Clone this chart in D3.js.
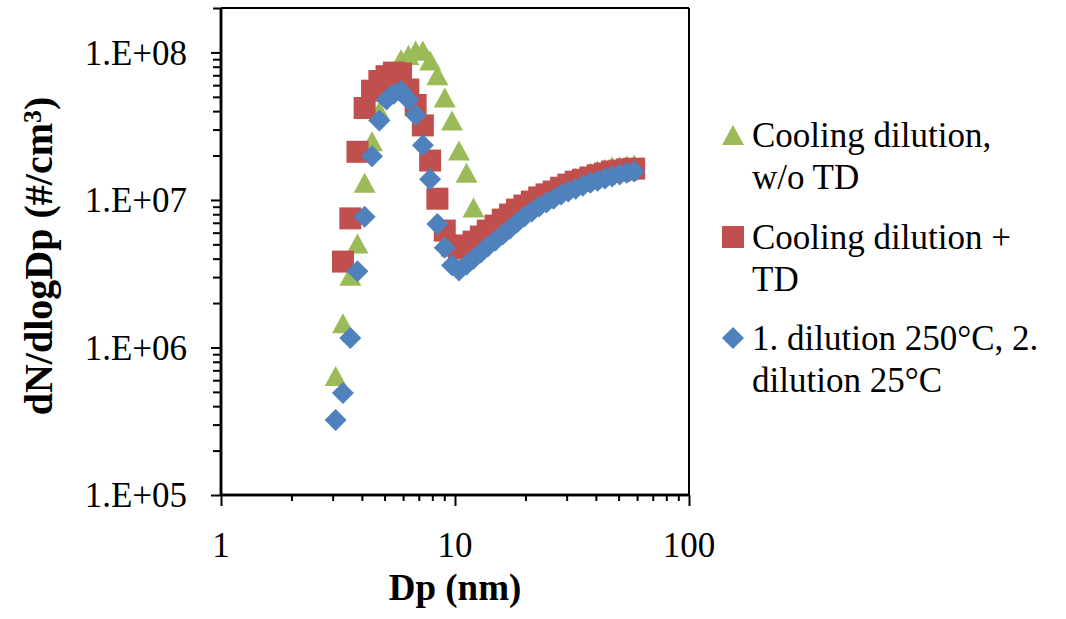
<!DOCTYPE html>
<html>
<head>
<meta charset="utf-8">
<script src="https://cdn.jsdelivr.net/npm/d3@7"></script>
<style>
  html, body { margin: 0; padding: 0; background: #fff; }
  svg { display: block; }
  text { font-family: "Liberation Serif", "Times New Roman", serif; fill: #000; }
</style>
</head>
<body>
<svg id="chart" width="1066" height="619"></svg>
<script>
// ---- data ----
const dp = [3.09, 3.32, 3.57, 3.83, 4.11, 4.42, 4.75, 5.10, 5.48, 5.88, 6.32, 6.79, 7.29, 7.83,
  8.41, 9.04, 9.71, 10.4, 11.2, 12.0, 12.9, 13.8, 14.9, 16.0, 17.2, 18.4, 19.8, 21.3, 22.9,
  24.6, 26.4, 28.4, 30.5, 32.8, 35.2, 37.9, 40.7, 43.7, 46.9, 50.5, 54.2, 58.3];

const coolingNoTD = [6.4e5, 1.46e6, 3.06e6, 5.06e6, 1.31e7, 2.5e7, 4.0e7, 5.5e7, 7.5e7, 9.0e7,
  9.6e7, 1.03e8, 1.03e8, 8.8e7, 7.0e7, 4.95e7, 3.46e7, 2.16e7, 1.53e7, 8.9e6, 6.3e6, 6.6e6,
  6.6e6, 6.7e6, 7.3e6, 8.0e6, 8.7e6, 9.4e6, 1.01e7, 1.10e7, 1.21e7, 1.29e7, 1.35e7, 1.42e7,
  1.46e7, 1.53e7, 1.58e7, 1.63e7, 1.69e7, 1.69e7, 1.72e7, 1.74e7];

const coolingTD = [null, 3.82e6, 7.5e6, 2.12e7, 4.2e7, 5.5e7, 6.4e7, 6.9e7, 7.3e7, 7.2e7,
  5.6e7, 4.4e7, 3.2e7, 1.85e7, 1.02e7, 6.2e6, 4.9e6, 4.68e6, 4.9e6, 5.22e6, 5.65e6, 6.2e6,
  6.7e6, 7.36e6, 7.96e6, 8.6e6, 9.16e6, 9.75e6, 1.04e7, 1.09e7, 1.14e7, 1.21e7, 1.27e7, 1.33e7,
  1.37e7, 1.42e7, 1.47e7, 1.51e7, 1.56e7, 1.58e7, 1.61e7, 1.63e7];

const hotDilution = [3.23e5, 4.92e5, 1.16e6, 3.28e6, 7.7e6, 1.98e7, 3.46e7, 4.8e7, 5.25e7, 5.5e7,
  4.8e7, 3.77e7, 2.35e7, 1.38e7, 6.87e6, 4.75e6, 3.61e6, 3.33e6, 3.64e6, 4.0e6, 4.4e6, 4.83e6,
  5.3e6, 5.82e6, 6.4e6, 7.03e6, 7.71e6, 8.34e6, 9.02e6, 9.6e6, 1.02e7, 1.09e7, 1.14e7, 1.19e7,
  1.25e7, 1.31e7, 1.35e7, 1.40e7, 1.44e7, 1.49e7, 1.53e7, 1.56e7];

const xTickValues = [1, 10, 100];
const xTickLabels = ["1", "10", "100"];
const yTickValues = [1e5, 1e6, 1e7, 1e8];
const yTickLabels = ["1.E+05", "1.E+06", "1.E+07", "1.E+08"];

const seriesNames = [["Cooling dilution,", "w/o TD"], ["Cooling dilution +", "TD"], ["1. dilution 250°C, 2.", "dilution 25°C"]];
const seriesColors = ["#9BBB59", "#C0504D", "#4F81BD"];
const seriesShapes = ["triangle", "square", "diamond"];

(function () {
// ---- layout ----
const svg = d3.select("#chart");
const pL = 221, pR = 689, pT = 8, pB = 495;
const x = d3.scaleLog().domain([1, 100]).range([pL, pR]);
const y = d3.scaleLog().domain([1e5, 2e8]).range([pB, pT]);

const shapePath = {
  triangle: "M0,-10L11,10L-11,10Z",
  square: "M-11,-11H11V11H-11Z",
  diamond: "M0,-11L11,0L0,11L-11,0Z"
};

// minor ticks
const xMinor = [];
for (let d = 1; d < 100; d *= 10) for (let k = 2; k <= 9; k++) xMinor.push(d * k);
const yMinor = [];
for (let d = 1e5; d < 1e8; d *= 10) for (let k = 2; k <= 9; k++) yMinor.push(d * k);
yMinor.push(2e8);

const g = svg.append("g");

// plot frame (top & right)
g.append("line").attr("x1", pL).attr("x2", pR).attr("y1", pT).attr("y2", pT)
  .attr("stroke", "#000").attr("stroke-width", 2);
g.append("line").attr("x1", pR).attr("x2", pR).attr("y1", pT).attr("y2", pB)
  .attr("stroke", "#000").attr("stroke-width", 2);

// x axis
const xAxis = g.append("g").attr("transform", `translate(0,${pB})`)
  .call(d3.axisBottom(x).tickValues(xMinor).tickSize(6).tickFormat(""));
const xAxisMajor = g.append("g").attr("transform", `translate(0,${pB})`)
  .call(d3.axisBottom(x).tickValues(xTickValues).tickSize(11).tickFormat(""));
[xAxis, xAxisMajor].forEach(a => {
  a.select(".domain").attr("d", `M${pL},0H${pR}`).attr("stroke", "#000").attr("stroke-width", 2.5);
  a.selectAll(".tick line").attr("stroke", "#000").attr("stroke-width", 2);
});

// y axis
const yAxis = g.append("g").attr("transform", `translate(${pL},0)`)
  .call(d3.axisLeft(y).tickValues(yMinor).tickSize(8).tickFormat(""));
const yAxisMajor = g.append("g").attr("transform", `translate(${pL},0)`)
  .call(d3.axisLeft(y).tickValues(yTickValues).tickSize(10).tickFormat(""));
[yAxis, yAxisMajor].forEach(a => {
  a.select(".domain").attr("d", `M0,${pT}V${pB}`).attr("stroke", "#000").attr("stroke-width", 2.5);
  a.selectAll(".tick line").attr("stroke", "#000").attr("stroke-width", 2);
});

// tick labels
g.selectAll(".xlab").data(xTickValues).enter().append("text")
  .attr("x", d => x(d)).attr("y", 557).attr("text-anchor", "middle")
  .attr("font-size", 35).text((d, i) => xTickLabels[i]);
g.selectAll(".ylab").data(yTickValues).enter().append("text")
  .attr("x", 187).attr("y", d => y(d)).attr("dy", "0.35em").attr("text-anchor", "end")
  .attr("font-size", 35).text((d, i) => yTickLabels[i]);

// axis titles
g.append("text").attr("x", 455).attr("y", 600).attr("text-anchor", "middle")
  .attr("font-size", 37).attr("font-weight", "bold").text("Dp (nm)");
const yt = g.append("text").attr("transform", "translate(52,256) rotate(-90)")
  .attr("text-anchor", "middle").attr("font-size", 40).attr("font-weight", "bold");
yt.append("tspan").text("dN/dlogDp (#/cm");
yt.append("tspan").attr("dy", "-0.42em").attr("font-size", "0.65em").text("3");
yt.append("tspan").attr("dy", "0.27em").text(")");

// data points
const allSeries = [coolingNoTD, coolingTD, hotDilution];
allSeries.forEach((vals, si) => {
  const pts = dp.map((d, i) => ({ d, v: vals[i] })).filter(p => p.v != null);
  g.append("g").selectAll("path").data(pts).enter().append("path")
    .attr("transform", p => `translate(${x(p.d)},${y(p.v)})`)
    .attr("d", shapePath[seriesShapes[si]])
    .attr("fill", seriesColors[si]);
});

// legend
const legendBase = [147, 249, 350];
const lg = svg.append("g");
seriesNames.forEach((lines, si) => {
  lg.append("path").attr("transform", `translate(733,${legendBase[si] - 12})`)
    .attr("d", shapePath[seriesShapes[si]]).attr("fill", seriesColors[si]);
  lines.forEach((t, li) => {
    lg.append("text").attr("x", 752).attr("y", legendBase[si] + li * 42)
      .attr("font-size", 35).text(t);
  });
});
})();
</script>
</body>
</html>
